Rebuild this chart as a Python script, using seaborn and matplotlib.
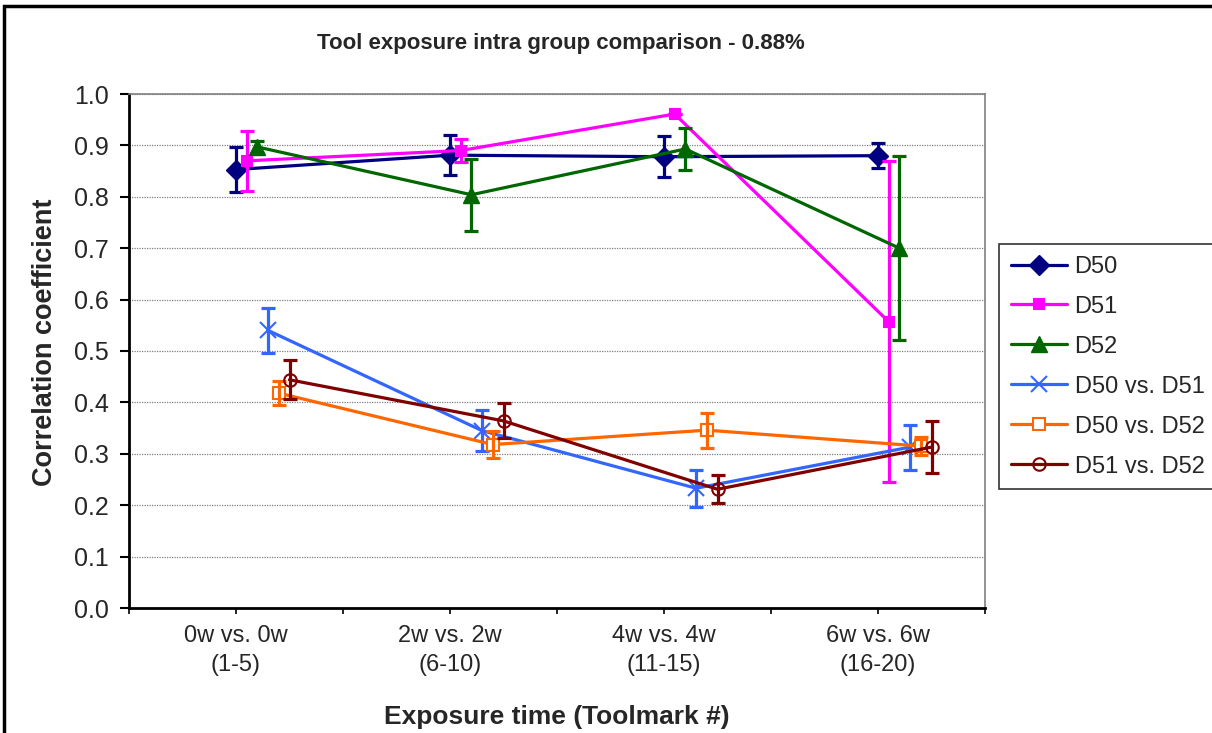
import matplotlib
matplotlib.use("Agg")
import matplotlib.pyplot as plt
import matplotlib.patches as mpatches
import numpy as np
import seaborn as sns

categories = ["0w vs. 0w\n(1-5)", "2w vs. 2w\n(6-10)", "4w vs. 4w\n(11-15)", "6w vs. 6w\n(16-20)"]
series_names = ["D50", "D51", "D52", "D50 vs. D51", "D50 vs. D52", "D51 vs. D52"]

d50 = [0.853, 0.881, 0.878, 0.880]
d50_err = [0.044, 0.039, 0.040, 0.024]
d51 = [0.870, 0.890, 0.961, 0.557]
d51_err = [0.058, 0.022, 0.0, 0.312]
d52 = [0.897, 0.804, 0.893, 0.700]
d52_err = [0.012, 0.070, 0.040, 0.179]
d50_d51 = [0.540, 0.345, 0.233, 0.313]
d50_d51_err = [0.044, 0.040, 0.036, 0.044]
d50_d52 = [0.418, 0.318, 0.346, 0.315]
d50_d52_err = [0.023, 0.026, 0.034, 0.018]
d51_d52 = [0.444, 0.364, 0.231, 0.313]
d51_d52_err = [0.038, 0.034, 0.027, 0.050]

values = [d50, d51, d52, d50_d51, d50_d52, d51_d52]
errors = [d50_err, d51_err, d52_err, d50_d51_err, d50_d52_err, d51_d52_err]

# style per series: color, marker, size, face
styles = [
    ("#000080", "D", 10, "#000080"),
    ("#FF00FF", "s", 7, "#FF00FF"),
    ("#006600", "^", 11, "#006600"),
    ("#3366FF", "x", 11, "#3366FF"),
    ("#FF6600", "s", 9, "white"),
    ("#800000", "o", 9, "none"),
]

sns.set_theme(style="white")
plt.rcParams["font.family"] = ["Liberation Sans", "DejaVu Sans"]

fig = plt.figure(figsize=(12.12, 7.33), dpi=100)
ax = fig.add_axes([129 / 1212, 1 - 608 / 733, (985 - 129) / 1212, (608 - 94) / 733])

centers = np.arange(len(categories)) * 2 + 1
for i, (name, vals, errs, st) in enumerate(zip(series_names, values, errors, styles)):
    color, marker, ms, face = st
    xs = centers + 0.1 * i
    sns.lineplot(x=xs, y=vals, ax=ax, color=color, lw=2.3, marker=marker, markersize=ms,
                 markerfacecolor=face, markeredgecolor=color,
                 markeredgewidth=1.5 if marker in ("s", "o", "x") else 1,
                 label=name, zorder=3 + i, sort=False)
    ax.errorbar(xs, vals, yerr=errs, fmt="none", ecolor=color, elinewidth=2.3,
                capsize=5, capthick=2.3, zorder=3 + i)

ax.set_xlim(0, 8)
ax.set_ylim(0, 1.0)
ax.set_yticks(np.arange(0, 1.01, 0.1))
ax.set_yticklabels([f"{v:.1f}" for v in np.arange(0, 1.01, 0.1)], fontsize=18)
ax.xaxis.remove_overlapping_locs = False
ax.set_xticks(np.arange(0, 9))
ax.set_xticklabels([""] * 9)
ax.set_xticks(centers, minor=True)
ax.set_xticklabels(categories, minor=True, fontsize=17, linespacing=1.45)
ax.tick_params(axis="x", which="minor", length=0, pad=12, bottom=True, labelbottom=True)
ax.tick_params(axis="x", which="major", direction="out", length=4, width=1.2, color="black", bottom=True)
ax.tick_params(axis="y", direction="out", length=6.5, width=1.5, color="black", left=True, pad=8)

ax.grid(axis="y", color="#808080", linestyle=(0, (1, 1)), linewidth=0.9)
ax.set_axisbelow(True)
for side in ("top", "right"):
    ax.spines[side].set_color("#808080")
    ax.spines[side].set_linewidth(1.2)
for side in ("left", "bottom"):
    ax.spines[side].set_color("black")
    ax.spines[side].set_linewidth(2)
ax.set_xlabel("")
ax.set_ylabel("")

fig.text(561 / 1212, 1 - 44 / 733, "Tool exposure intra group comparison - 0.88%",
         ha="center", va="center", fontsize=16, fontweight="bold")
fig.text(557 / 1212, 1 - 717 / 733, "Exposure time (Toolmark #)",
         ha="center", va="center", fontsize=19, fontweight="bold")
fig.text(45 / 1212, 1 - 342 / 733, "Correlation coefficient", rotation=90,
         ha="center", va="center", fontsize=19.5, fontweight="bold")

leg = ax.legend(loc="upper left", bbox_to_anchor=(999 / 1212, 1 - 244 / 733),
                bbox_transform=fig.transFigure, fontsize=17, frameon=True, fancybox=False,
                edgecolor="black", handlelength=2.4, borderaxespad=0, labelspacing=0.76,
                handletextpad=0.3, borderpad=0.5)
leg.get_frame().set_linewidth(1.2)

fig.add_artist(mpatches.Rectangle((4 / 1212, -0.1), 1.2, 1 - 6 / 733 + 0.1,
                                  transform=fig.transFigure, fill=False,
                                  edgecolor="black", linewidth=2.5))

fig.savefig("out.png", dpi=100)
